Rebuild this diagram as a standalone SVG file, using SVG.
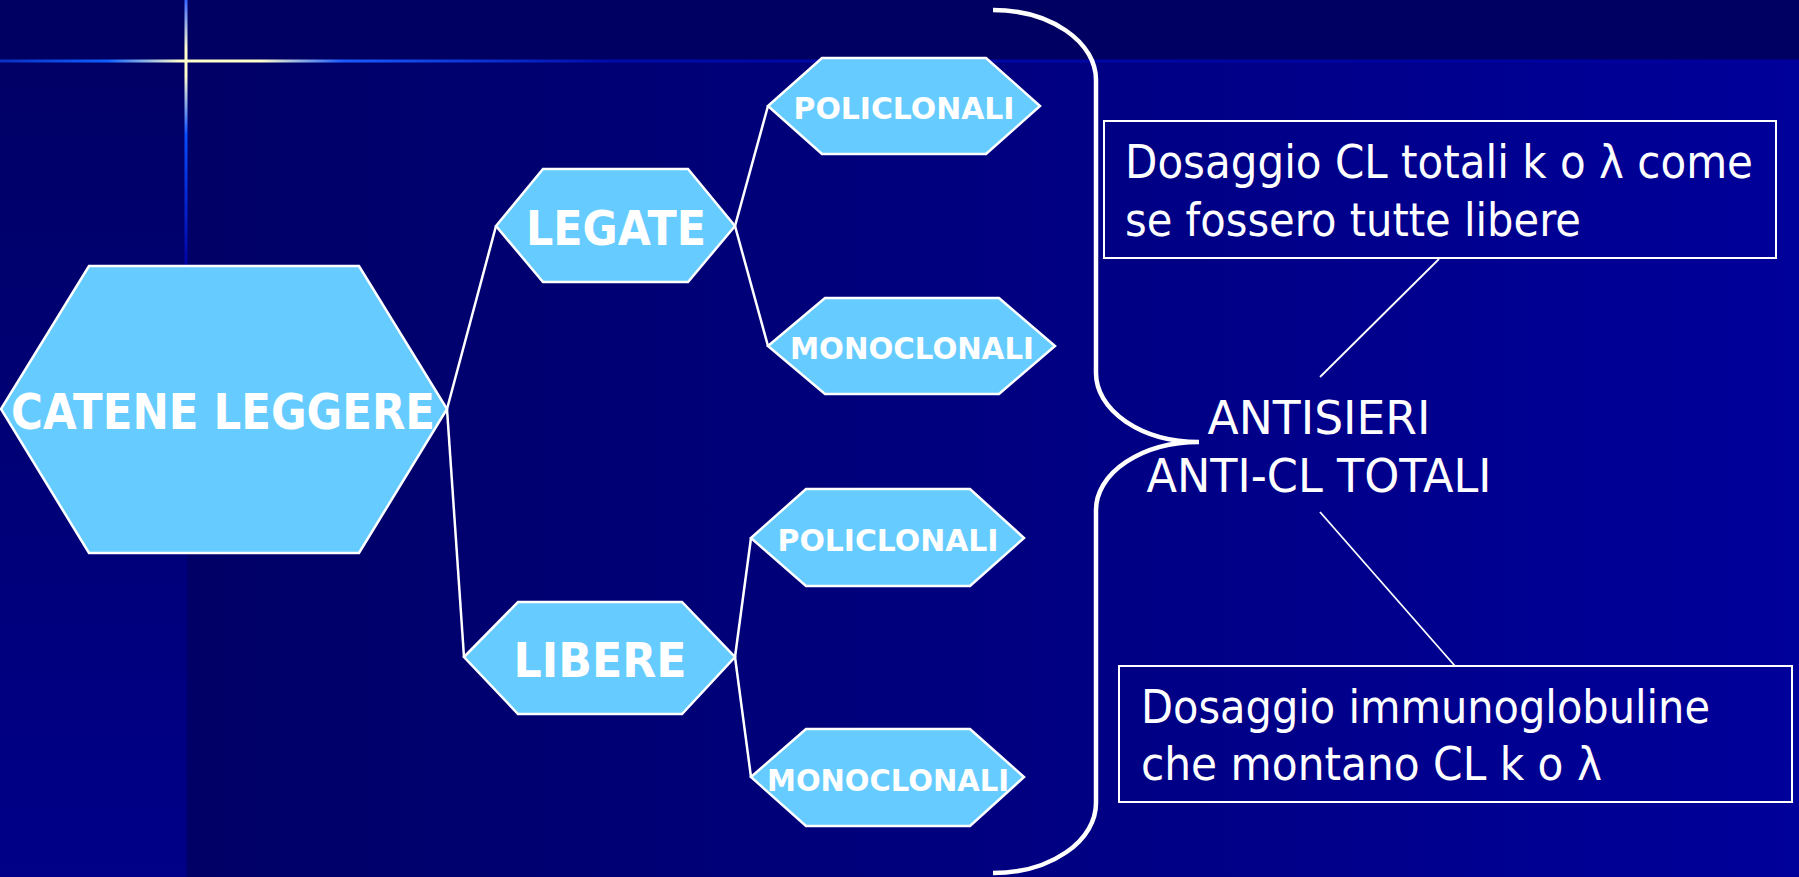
<svg xmlns="http://www.w3.org/2000/svg" width="1799" height="877" viewBox="0 0 1799 877">
<defs>
<linearGradient id="bgMain" x1="186" y1="0" x2="1799" y2="0" gradientUnits="userSpaceOnUse">
<stop offset="0" stop-color="#000066"/>
<stop offset="1" stop-color="#00009a"/>
</linearGradient>
<linearGradient id="bgLeft" x1="0" y1="61" x2="0" y2="877" gradientUnits="userSpaceOnUse">
<stop offset="0" stop-color="#000066"/>
<stop offset="1" stop-color="#000088"/>
</linearGradient>
<linearGradient id="hLine" x1="0" y1="0" x2="1799" y2="0" gradientUnits="userSpaceOnUse">
<stop offset="0" stop-color="#0a2ec0"/>
<stop offset="0.06" stop-color="#1060ff"/>
<stop offset="0.1" stop-color="#ffffcc"/>
<stop offset="0.145" stop-color="#ffffcc"/>
<stop offset="0.19" stop-color="#1a5cff"/>
<stop offset="0.34" stop-color="#000aa8"/>
<stop offset="1" stop-color="#00009c"/>
</linearGradient>
<linearGradient id="vLine" x1="0" y1="0" x2="0" y2="270" gradientUnits="userSpaceOnUse">
<stop offset="0" stop-color="#3a66ff"/>
<stop offset="0.18" stop-color="#ffffcc"/>
<stop offset="0.28" stop-color="#ffffcc"/>
<stop offset="0.5" stop-color="#0a4cff"/>
<stop offset="1" stop-color="#0000a0"/>
</linearGradient>
</defs>
<style>
.hex{fill:#66ccff;stroke:#ffffff;stroke-width:2.5}
.lbl{font-family:"DejaVu Sans","Liberation Sans",sans-serif;font-weight:bold;fill:#ffffff;text-anchor:middle}
.txt{font-family:"DejaVu Sans","Liberation Sans",sans-serif;fill:#ffffff}
.con{stroke:#ffffff;stroke-width:2.5;fill:none}
.thin{stroke:#ffffff;stroke-width:1.8;fill:none}
.box{fill:none;stroke:#ffffff;stroke-width:2}
</style>
<g id="background">
<rect x="0" y="0" width="1799" height="877" fill="url(#bgMain)"/>
<rect x="0" y="61" width="186" height="816" fill="url(#bgLeft)"/>
<rect x="0" y="0" width="1799" height="61" fill="#000062"/>
<rect x="185" y="61" width="2" height="816" fill="#00007e"/>
<rect x="0" y="59.5" width="1799" height="3" fill="url(#hLine)"/>
<rect x="184.5" y="0" width="3" height="268" fill="url(#vLine)"/>
</g>
<g id="connectors">
<line class="con" x1="447" y1="409" x2="496" y2="226"/>
<line class="con" x1="447" y1="409" x2="464" y2="657"/>
<line class="con" x1="735" y1="226" x2="768" y2="106"/>
<line class="con" x1="735" y1="226" x2="768" y2="346"/>
<line class="con" x1="735" y1="657" x2="751" y2="538"/>
<line class="con" x1="735" y1="657" x2="751" y2="777"/>
<path d="M993,10 A103,70 0 0 1 1096,80 L1096,373 A103,69 0 0 0 1199,442 A103,68 0 0 0 1096,510 L1096,803 A103,70 0 0 1 993,873" fill="none" stroke="#ffffff" stroke-width="4.5"/>
<line class="thin" x1="1320" y1="377" x2="1439" y2="259"/>
<line class="thin" x1="1320" y1="512" x2="1455" y2="666"/>
</g>
<g id="catene-leggere">
<polygon class="hex" points="1,409 89,266 359,266 447,409 359,553 89,553"/>
<text class="lbl" x="223" y="429" font-size="49" textLength="424" lengthAdjust="spacingAndGlyphs">CATENE LEGGERE</text>
</g>
<g id="legate">
<polygon class="hex" points="496,226 543,169 688,169 735,226 688,282 543,282"/>
<text class="lbl" x="616" y="245" font-size="48" textLength="180" lengthAdjust="spacingAndGlyphs">LEGATE</text>
</g>
<g id="policlonali-1">
<polygon class="hex" points="768,106 822,58 986,58 1040,106 986,154 822,154"/>
<text class="lbl" x="904" y="119" font-size="30" textLength="221" lengthAdjust="spacingAndGlyphs">POLICLONALI</text>
</g>
<g id="monoclonali-1">
<polygon class="hex" points="768,346 825,298 999,298 1055,346 999,394 825,394"/>
<text class="lbl" x="912" y="359" font-size="31" textLength="244" lengthAdjust="spacingAndGlyphs">MONOCLONALI</text>
</g>
<g id="libere">
<polygon class="hex" points="464,657 518,602 682,602 735,657 682,714 518,714"/>
<text class="lbl" x="600" y="677" font-size="48" textLength="173" lengthAdjust="spacingAndGlyphs">LIBERE</text>
</g>
<g id="policlonali-2">
<polygon class="hex" points="751,538 806,489 970,489 1024,538 970,586 806,586"/>
<text class="lbl" x="888" y="551" font-size="30" textLength="221" lengthAdjust="spacingAndGlyphs">POLICLONALI</text>
</g>
<g id="monoclonali-2">
<polygon class="hex" points="751,777 806,729 970,729 1024,777 970,826 806,826"/>
<text class="lbl" x="888" y="791" font-size="31" textLength="242" lengthAdjust="spacingAndGlyphs">MONOCLONALI</text>
</g>
<g id="antisieri">
<text class="txt" x="1319" y="434" font-size="46" text-anchor="middle" textLength="223" lengthAdjust="spacingAndGlyphs">ANTISIERI</text>
<text class="txt" x="1319" y="492" font-size="46" text-anchor="middle" textLength="345" lengthAdjust="spacingAndGlyphs">ANTI-CL TOTALI</text>
</g>
<g id="box-top">
<rect class="box" x="1104" y="121" width="672" height="137"/>
<text class="txt" x="1125" y="178" font-size="46" textLength="628" lengthAdjust="spacingAndGlyphs">Dosaggio CL totali k o λ come</text>
<text class="txt" x="1125" y="236" font-size="46" textLength="456" lengthAdjust="spacingAndGlyphs">se fossero tutte libere</text>
</g>
<g id="box-bottom">
<rect class="box" x="1119" y="666" width="673" height="136"/>
<text class="txt" x="1141" y="723" font-size="46" textLength="569" lengthAdjust="spacingAndGlyphs">Dosaggio immunoglobuline</text>
<text class="txt" x="1141" y="780" font-size="46" textLength="461" lengthAdjust="spacingAndGlyphs">che montano CL k o λ</text>
</g>
</svg>
